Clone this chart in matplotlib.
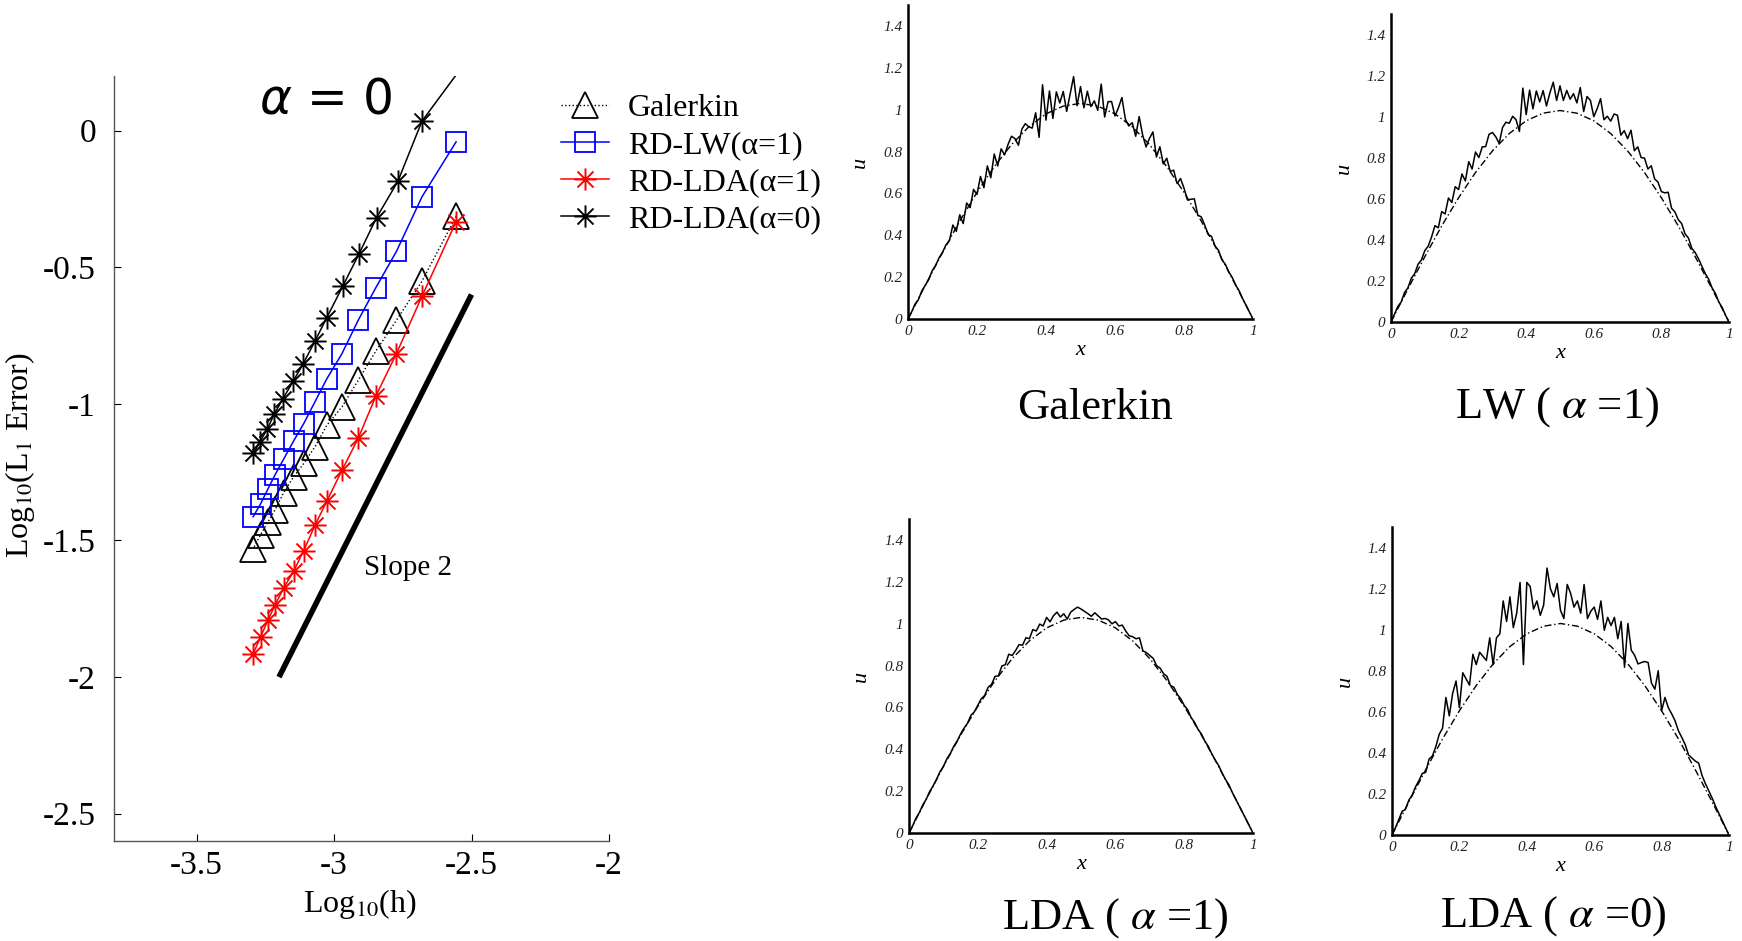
import matplotlib
matplotlib.use('Agg')
import matplotlib.pyplot as plt
from matplotlib.path import Path
import numpy as np

plt.rcParams['font.family'] = ['Liberation Serif', 'DejaVu Serif']
plt.rcParams['mathtext.fontset'] = 'stix'
plt.rcParams['axes.unicode_minus'] = False

# ---------------- convergence data (left panel) ----------------
log_h = [-2.556, -2.680, -2.773, -2.848, -2.912, -2.971, -3.026, -3.069,
         -3.110, -3.147, -3.183, -3.214, -3.240, -3.267, -3.294]
log_h_lda0 = [-2.500, -2.680, -2.768, -2.845, -2.910, -2.968, -3.026, -3.069,
              -3.113, -3.149, -3.186, -3.217, -3.243, -3.270, -3.293]
err_galerkin = [-0.314, -0.551, -0.694, -0.807, -0.914, -1.011, -1.078, -1.157,
                -1.218, -1.267, -1.325, -1.387, -1.432, -1.479, -1.530]
err_lw1 = [-0.041, -0.242, -0.442, -0.575, -0.694, -0.816, -0.908, -0.992,
           -1.072, -1.136, -1.202, -1.259, -1.311, -1.366, -1.413]
err_lda1 = [-0.333, -0.606, -0.816, -0.972, -1.126, -1.243, -1.356, -1.444,
            -1.537, -1.613, -1.674, -1.736, -1.791, -1.853, -1.915]
err_lda0 = [0.280, 0.035, -0.186, -0.318, -0.453, -0.569, -0.684, -0.770,
            -0.855, -0.918, -0.982, -1.037, -1.093, -1.140, -1.181]
slope_x = [-3.20, -2.50]
slope_y = [-2.00, -0.60]
series_labels = ['Galerkin', 'RD-LW(\u03b1=1)', 'RD-LDA(\u03b1=1)', 'RD-LDA(\u03b1=0)']
x_ticks = [-3.5, -3.0, -2.5, -2.0]
x_ticklabels = ['-3.5', '-3', '-2.5', '-2']
y_ticks = [0, -0.5, -1.0, -1.5, -2.0, -2.5]
y_ticklabels = ['0', '-0.5', '-1', '-1.5', '-2', '-2.5']

# ---------------- solution profiles (right panels) ----------------
grid_x = np.arange(101) / 100.0
exact_x = [0.00, 0.05, 0.10, 0.15, 0.20, 0.25, 0.30, 0.35, 0.40, 0.45, 0.50,
           0.55, 0.60, 0.65, 0.70, 0.75, 0.80, 0.85, 0.90, 0.95, 1.00]
exact_u = [0.000, 0.161, 0.318, 0.468, 0.605, 0.728, 0.833, 0.918, 0.980, 1.017, 1.030,
           1.017, 0.980, 0.918, 0.833, 0.728, 0.605, 0.468, 0.318, 0.161, 0.000]

u_galerkin = [0.000, 0.032, 0.070, 0.092, 0.134, 0.161, 0.188, 0.230, 0.256, 0.292,
              0.318, 0.354, 0.374, 0.449, 0.419, 0.498, 0.456, 0.554, 0.532, 0.619,
              0.595, 0.681, 0.627, 0.731, 0.675, 0.788, 0.731, 0.813, 0.784, 0.834,
              0.873, 0.862, 0.830, 0.907, 0.933, 0.918, 0.912, 0.985, 0.868, 1.119,
              0.950, 1.089, 0.958, 1.085, 1.032, 1.087, 0.992, 1.075, 1.158, 1.019,
              1.110, 1.009, 1.088, 1.015, 1.042, 0.997, 1.122, 0.965, 1.038, 1.039,
              0.970, 1.009, 1.058, 0.955, 0.922, 0.938, 0.873, 0.967, 0.880, 0.822,
              0.863, 0.894, 0.774, 0.823, 0.741, 0.768, 0.705, 0.711, 0.647, 0.671,
              0.625, 0.569, 0.572, 0.574, 0.496, 0.488, 0.449, 0.404, 0.394, 0.349,
              0.328, 0.282, 0.261, 0.225, 0.198, 0.161, 0.134, 0.097, 0.065, 0.032,
              0.000]
u_lw1 = [0.000, 0.037, 0.075, 0.097, 0.144, 0.166, 0.213, 0.235, 0.281, 0.302,
         0.348, 0.369, 0.414, 0.469, 0.459, 0.538, 0.526, 0.604, 0.582, 0.659,
         0.645, 0.721, 0.687, 0.781, 0.745, 0.828, 0.801, 0.853, 0.854, 0.914,
         0.923, 0.902, 0.870, 0.947, 0.973, 0.968, 1.002, 0.985, 0.928, 1.139,
         1.010, 1.129, 1.038, 1.125, 1.072, 1.127, 1.052, 1.115, 1.168, 1.079,
         1.150, 1.079, 1.128, 1.085, 1.112, 1.067, 1.142, 1.025, 1.098, 1.079,
         1.000, 1.039, 1.088, 0.985, 1.002, 0.978, 1.013, 1.007, 0.910, 0.932,
         0.893, 0.934, 0.834, 0.853, 0.801, 0.798, 0.745, 0.761, 0.697, 0.681,
         0.635, 0.629, 0.632, 0.554, 0.536, 0.498, 0.479, 0.429, 0.409, 0.359,
         0.338, 0.307, 0.271, 0.235, 0.208, 0.166, 0.139, 0.097, 0.070, 0.032,
         0.000]
u_lda1 = [0.000, 0.032, 0.070, 0.097, 0.134, 0.161, 0.198, 0.225, 0.256, 0.292,
          0.318, 0.354, 0.379, 0.414, 0.439, 0.473, 0.501, 0.524, 0.562, 0.579,
          0.610, 0.641, 0.657, 0.696, 0.710, 0.748, 0.751, 0.798, 0.804, 0.854,
          0.848, 0.872, 0.900, 0.897, 0.933, 0.928, 0.972, 0.965, 0.998, 0.989,
          1.030, 1.009, 1.038, 1.055, 1.032, 1.047, 1.022, 1.055, 1.068, 1.079,
          1.070, 1.059, 1.048, 1.035, 1.052, 1.037, 1.022, 1.025, 1.018, 0.999,
          1.010, 0.989, 0.993, 0.965, 0.942, 0.938, 0.928, 0.932, 0.870, 0.862,
          0.848, 0.834, 0.799, 0.788, 0.761, 0.748, 0.705, 0.696, 0.662, 0.641,
          0.610, 0.589, 0.552, 0.529, 0.496, 0.473, 0.439, 0.414, 0.379, 0.349,
          0.323, 0.287, 0.256, 0.230, 0.193, 0.161, 0.129, 0.097, 0.065, 0.032,
          0.000]
u_lda0 = [0.000, 0.035, 0.075, 0.115, 0.125, 0.170, 0.195, 0.235, 0.265, 0.300,
          0.305, 0.370, 0.385, 0.430, 0.490, 0.520, 0.670, 0.580, 0.690, 0.750,
          0.620, 0.790, 0.760, 0.730, 0.880, 0.830, 0.890, 0.870, 0.850, 0.960,
          0.830, 0.960, 0.980, 1.140, 1.040, 1.160, 1.010, 1.080, 1.230, 0.830,
          1.230, 1.210, 1.100, 1.140, 1.070, 1.120, 1.300, 1.200, 1.160, 1.225,
          1.094, 1.054, 1.220, 1.177, 1.110, 1.140, 1.080, 1.220, 1.054, 1.090,
          1.110, 1.050, 1.140, 0.997, 1.060, 1.020, 1.060, 0.956, 1.040, 0.817,
          1.030, 0.900, 0.875, 0.833, 0.840, 0.845, 0.840, 0.740, 0.710, 0.800,
          0.605, 0.670, 0.620, 0.590, 0.556, 0.507, 0.475, 0.440, 0.390, 0.375,
          0.360, 0.350, 0.290, 0.250, 0.215, 0.180, 0.140, 0.105, 0.070, 0.035,
          0.000]
panel_titles = ['Galerkin', 'LW ( $\\alpha$ =1)', 'LDA ( $\\alpha$ =1)', 'LDA ( $\\alpha$ =0)']
u_ticks = [0, 0.2, 0.4, 0.6, 0.8, 1.0, 1.2, 1.4]
u_ticklabels = ['0', '0.2', '0.4', '0.6', '0.8', '1', '1.2', '1.4']
xg_ticks = [0, 0.2, 0.4, 0.6, 0.8, 1.0]
xg_ticklabels = ['0', '0.2', '0.4', '0.6', '0.8', '1']

W, H = 1742, 941
fig = plt.figure(figsize=(W / 100, H / 100), dpi=100)


def frac_rect(l, r, t, b):
    return [l / W, (H - b) / H, (r - l) / W, (b - t) / H]


# asterisk marker (8 arms)
ast = Path([(-1, 0), (1, 0), (0, -1), (0, 1), (-0.72, -0.72), (0.72, 0.72),
            (-0.72, 0.72), (0.72, -0.72)],
           [Path.MOVETO, Path.LINETO] * 4)

# ---------------- left panel ----------------
ax = fig.add_axes(frac_rect(114, 609, 76, 841))
ax.plot(log_h, err_galerkin, color='black', linestyle=':', linewidth=1.0,
        marker='^', markersize=19, markerfacecolor='none', markeredgewidth=1.3,
        label=series_labels[0])
ax.plot(log_h, err_lw1, color='#0000ff', linestyle='-', linewidth=1.1,
        marker='s', markersize=14, markerfacecolor='none', markeredgewidth=1.3,
        label=series_labels[1])
ax.plot(log_h, err_lda1, color='#ff0000', linestyle='-', linewidth=1.1,
        marker=ast, markersize=16, markerfacecolor='none', markeredgewidth=1.4,
        label=series_labels[2])
ax.plot(log_h_lda0, err_lda0, color='black', linestyle='-', linewidth=1.1,
        marker=ast, markersize=16, markerfacecolor='none', markeredgewidth=1.4,
        label=series_labels[3])
ax.plot(slope_x, slope_y, color='black', linewidth=4.0, solid_capstyle='butt')
ax.text(-2.73, -1.60, 'Slope 2', fontsize=21, ha='center', va='center')
ax.text(-3.03, 0.115, '$\\alpha$ = 0', fontsize=35, ha='center', va='center',
        math_fontfamily='dejavusans', family='DejaVu Sans', clip_on=False)

ax.set_xlim(-3.8, -2.0)
ax.set_ylim(-2.6, 0.2)
ax.set_xticks(x_ticks)
ax.set_xticklabels(x_ticklabels)
ax.set_yticks(y_ticks)
ax.set_yticklabels(y_ticklabels)
ax.spines['top'].set_visible(False)
ax.spines['right'].set_visible(False)
for s in ('left', 'bottom'):
    ax.spines[s].set_color('#555555')
    ax.spines[s].set_linewidth(1.0)
ax.tick_params(axis='both', direction='in', length=5, labelsize=24, colors='black')
ax.tick_params(axis='y', pad=13)
ax.tick_params(axis='x', pad=7)
ax.set_xlabel('Log$_{10}$(h)', fontsize=23)
ax.xaxis.set_label_coords(0.497, -0.06)
ax.set_ylabel('Log$_{10}$(L$_1$ Error)', fontsize=23)
ax.yaxis.set_label_coords(-0.155, 0.505)

fig.legend(handles=ax.lines[:4], labels=series_labels, loc='upper left',
           bbox_to_anchor=(561 / W, (H - 94) / H), frameon=False, fontsize=23,
           handlelength=1.5, handletextpad=0.6, labelspacing=0.24,
           borderpad=0, borderaxespad=0)

# ---------------- right panels ----------------
panels = [
    (frac_rect(908, 1253, 5, 319), u_galerkin, (1095, 419)),
    (frac_rect(1391, 1729, 14, 322), u_lw1, (1557, 418)),
    (frac_rect(909, 1253, 519, 833), u_lda1, (1115, 929)),
    (frac_rect(1392, 1729, 527, 835), u_lda0, (1553, 927)),
]
for (rect, u_num, (tx, ty)), title in zip(panels, panel_titles):
    a = fig.add_axes(rect)
    a.plot(exact_x, exact_u, color='black', linewidth=1.0,
           linestyle=(0, (5, 2, 1, 2)))
    a.plot(grid_x, u_num, color='black', linewidth=1.1)
    a.set_xlim(0, 1)
    a.set_ylim(0, 1.5)
    a.set_xticks(xg_ticks)
    a.set_xticklabels(xg_ticklabels, fontstyle='italic')
    a.set_yticks(u_ticks)
    a.set_yticklabels(u_ticklabels, fontstyle='italic')
    a.tick_params(axis='both', length=0, labelsize=11, colors='#222222')
    a.tick_params(axis='y', pad=4)
    a.tick_params(axis='x', pad=4)
    a.spines['top'].set_visible(False)
    a.spines['right'].set_visible(False)
    for s in ('left', 'bottom'):
        a.spines[s].set_linewidth(1.8)
    a.set_xlabel('x', fontsize=16, fontstyle='italic')
    a.xaxis.set_label_coords(0.5, -0.07)
    a.set_ylabel('u', fontsize=16, fontstyle='italic')
    a.yaxis.set_label_coords(-0.11, 0.5)
    fig.text(tx / W, (H - ty) / H, title, fontsize=32, ha='center', va='baseline')

fig.savefig('out.png', dpi=100)
